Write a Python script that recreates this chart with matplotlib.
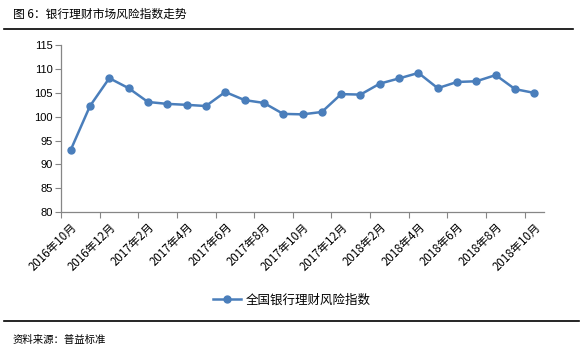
import matplotlib
matplotlib.use("Agg")
import matplotlib.pyplot as plt
from matplotlib.lines import Line2D

plt.rcParams['font.family'] = ['Noto Sans CJK SC', 'DejaVu Sans']

months = ["2016年10月", "2016年11月", "2016年12月", "2017年1月", "2017年2月", "2017年3月",
          "2017年4月", "2017年5月", "2017年6月", "2017年7月", "2017年8月", "2017年9月",
          "2017年10月", "2017年11月", "2017年12月", "2018年1月", "2018年2月", "2018年3月",
          "2018年4月", "2018年5月", "2018年6月", "2018年7月", "2018年8月", "2018年9月",
          "2018年10月"]
risk_index = [93.0, 102.25, 108.1, 106.0, 103.1, 102.7, 102.5, 102.25, 105.2, 103.5,
              102.9, 100.6, 100.5, 101.0, 104.75, 104.65, 106.95, 108.05, 109.2, 106.0,
              107.3, 107.45, 108.75, 105.8, 105.0]
series_name = "全国银行理财风险指数"
yticks = [80, 85, 90, 95, 100, 105, 110, 115]

W, H = 583, 351
fig = plt.figure(figsize=(W / 100, H / 100), dpi=100)
ax = fig.add_axes([61 / W, 1 - 212 / H, (544 - 61) / W, (212 - 45.3) / H])

color = '#4A7EBB'
x = list(range(len(months)))
ax.plot(x, risk_index, color=color, lw=1.8, marker='o', ms=5, zorder=3)

ax.set_xlim(-0.5, len(months) - 0.5)
ax.set_ylim(80, 115)
ax.set_yticks(yticks)
ax.set_yticklabels([str(v) for v in yticks], fontsize=8, family='Liberation Sans')

# category labels every 2 months, tick marks at category boundaries
ax.set_xticks(x[::2])
ax.set_xticklabels(months[::2], rotation=45, ha='right', va='top',
                   rotation_mode='anchor', fontsize=8.3)
ax.tick_params(axis='x', length=0, pad=6)
ax.set_xticks([i - 0.5 for i in x[::2]], minor=True)
ax.tick_params(axis='x', which='minor', length=4, color='#868686', width=0.8)
ax.tick_params(axis='y', length=4, color='#868686', width=0.8, pad=2)

for s in ['top', 'right']:
    ax.spines[s].set_visible(False)
for s in ['left', 'bottom']:
    ax.spines[s].set_color('#868686')
    ax.spines[s].set_linewidth(0.9)

# title and rules
fig.text(13 / W, 1 - 14 / H, "图 6：银行理财市场风险指数走势", fontsize=8.5,
         ha='left', va='center')
fig.add_artist(Line2D([4 / W, 573 / W], [1 - 29 / H, 1 - 29 / H], color='black', lw=1.2))
fig.add_artist(Line2D([4 / W, 579 / W], [1 - 321 / H, 1 - 321 / H], color='black', lw=1.2))
fig.text(13 / W, 1 - 340 / H, "资料来源：普益标准", fontsize=7.5, ha='left', va='center')

handle = Line2D([], [], color=color, lw=1.8, marker='o', ms=5)
fig.legend([handle], [series_name], loc='center', bbox_to_anchor=(292 / W, 1 - 300 / H),
           frameon=False, fontsize=9, handlelength=2.2, handletextpad=0.4)

fig.savefig("out.png", dpi=100)
